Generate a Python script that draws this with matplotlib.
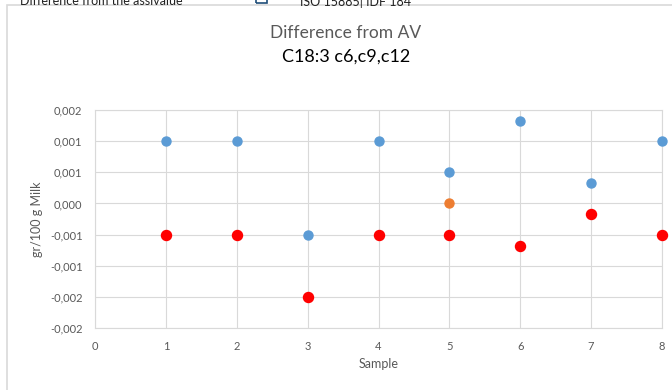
import matplotlib.pyplot as plt
from matplotlib.patches import Rectangle
from matplotlib.ticker import FixedLocator, FuncFormatter

plt.rcParams['font.family'] = ['Lato', 'DejaVu Sans']

# data
samples = [1, 2, 3, 4, 5, 6, 7, 8]
blue_vals = [0.001, 0.001, -0.0005, 0.001, 0.0005, 0.00132, 0.00032, 0.001]
red_vals = [-0.0005, -0.0005, -0.0015, -0.0005, -0.0005, -0.00068, -0.00017, -0.0005]
orange_x = [5]
orange_vals = [0.0]
y_ticks = [-0.002, -0.0015, -0.001, -0.0005, 0.0, 0.0005, 0.001, 0.0015]
x_ticks = [0, 1, 2, 3, 4, 5, 6, 7, 8]

fig = plt.figure(figsize=(6.72, 3.90), dpi=100)
ax = fig.add_axes([95 / 672, 1 - 328 / 390, 567 / 672, 218 / 390])

# chart frame and cut-off header
fig.patches.append(Rectangle((7 / 672, -0.1), 2, 1 - 5 / 390 + 0.1, transform=fig.transFigure,
                             fill=False, edgecolor='#d9d9d9', lw=1.2))
fig.text(20 / 672, 1 - 1 / 390, 'Difference from the assivalue', fontsize=9, color='#222222', va='center')
fig.patches.append(Rectangle((256 / 672, 1 - 3 / 390), 11 / 672, 6 / 390, transform=fig.transFigure,
                             fill=False, edgecolor='#1f4e79', lw=1.2))
fig.text(300 / 672, 1 - 1 / 390, 'ISO 15885| IDF 184', fontsize=9, color='#222222', va='center')

fig.text(346 / 672, 1 - 33 / 390, 'Difference from AV', fontsize=12.5, color='#595959',
         ha='center', va='center')
fig.text(346 / 672, 1 - 57 / 390, 'C18:3 c6,c9,c12', fontsize=13, color='black',
         ha='center', va='center')

ax.scatter(samples, blue_vals, s=42, color='#5b9bd5', zorder=3, clip_on=False)
ax.scatter(orange_x, orange_vals, s=42, color='#ed7d31', zorder=3, clip_on=False)
ax.scatter(samples, red_vals, s=52, color='#ff0000', zorder=4, clip_on=False)

ax.set_xlim(0, 8)
ax.set_ylim(-0.002, 0.0015)
ax.xaxis.set_major_locator(FixedLocator(x_ticks))
ax.yaxis.set_major_locator(FixedLocator(y_ticks))


def fmt(v, pos):
    s = '{:.3f}'.format(round(v + (1e-9 if v > 0 else -1e-9), 3)).replace('.', ',')
    if s == '-0,000':
        s = '0,000'
    return s


ax.yaxis.set_major_formatter(FuncFormatter(fmt))
ax.grid(True, color='#d9d9d9', lw=0.8)
ax.set_axisbelow(True)
for sp in ax.spines.values():
    sp.set_color('#d9d9d9')
    sp.set_linewidth(0.8)
ax.tick_params(length=0, labelsize=8, labelcolor='#595959', pad=9)
ax.set_xlabel('Sample', fontsize=9, color='#595959', labelpad=5)
ax.set_ylabel('gr/100 g Milk', fontsize=9, color='#595959', labelpad=5)

fig.savefig('out.png', dpi=100)
